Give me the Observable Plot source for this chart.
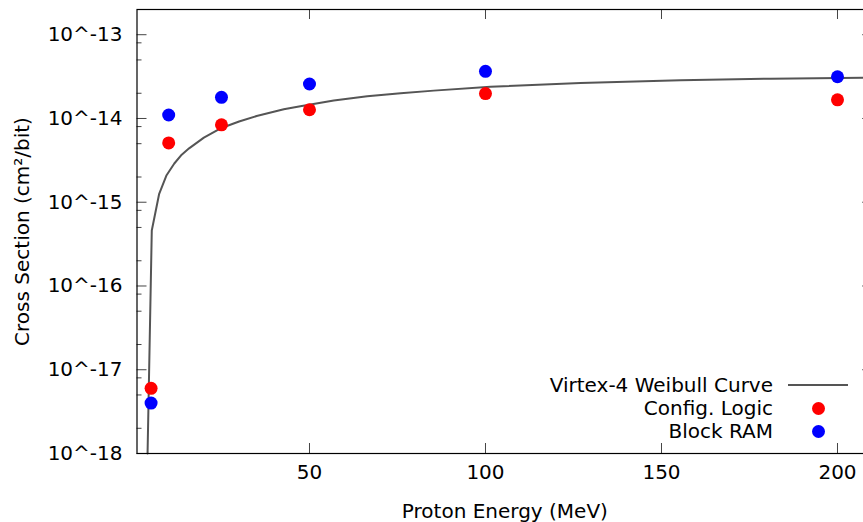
<!DOCTYPE html>
<html>
<head>
<meta charset="utf-8">
<script src="https://cdn.jsdelivr.net/npm/d3@7"></script>
<script src="https://cdn.jsdelivr.net/npm/@observablehq/plot@0.6"></script>
<style>
  html, body { margin: 0; padding: 0; background: white; overflow: hidden; }
  #wrap { position: relative; width: 863px; height: 522px; overflow: hidden; font-family: "DejaVu Sans", sans-serif; }
  .leg { position: absolute; right: 90px; font-size: 20px; line-height: 24px; text-align: right; white-space: nowrap; color: black; }
  .sym-line { position: absolute; left: 788px; width: 60px; height: 2px; background: #555; }
  .sym-dot { position: absolute; width: 13px; height: 13px; border-radius: 50%; }
</style>
</head>
<body>
<div id="wrap"></div>
<script>
// Measured data points (Proton Energy in MeV, cross section in cm^2/bit)
const energies = [5, 10, 25, 50, 100, 200];
const configLogic = [6.0e-18, 5.1e-15, 8.4e-15, 1.27e-14, 1.98e-14, 1.67e-14];
const blockRAM = [4.0e-18, 1.1e-14, 1.79e-14, 2.58e-14, 3.65e-14, 3.15e-14];

// Weibull curve
const curveEnergy = [4.0, 5.2, 7.3, 9.4, 11.6, 13.7, 15.8, 20, 25, 30, 35, 42.7, 47.4, 56.9, 66.4, 75.9, 85.3, 101.4, 127, 155.4, 181, 210];
const curveSigma = [1e-18, 4.6e-16, 1.26e-15, 2.1e-15, 2.9e-15, 3.7e-15, 4.4e-15, 5.9e-15, 7.7e-15, 9.2e-15, 1.07e-14, 1.29e-14, 1.40e-14, 1.64e-14, 1.84e-14, 2.0e-14, 2.15e-14, 2.39e-14, 2.65e-14, 2.85e-14, 2.99e-14, 3.08e-14];

// Tick values
const xTicks = [50, 100, 150, 200];
const yMajor = [1e-18, 1e-17, 1e-16, 1e-15, 1e-14, 1e-13];
const yMinor = [2e-18, 5e-18, 8e-18, 2e-17, 5e-17, 8e-17, 2e-16, 5e-16, 8e-16, 2e-15, 5e-15, 8e-15, 2e-14, 5e-14, 8e-14];
const yTickLabels = ["10^-18", "10^-17", "10^-16", "10^-15", "10^-14", "10^-13"];

const seriesNames = ["Virtex-4 Weibull Curve", "Config. Logic", "Block RAM"];
const xTitle = "Proton Energy (MeV)";
const yTitle = "Cross Section (cm²/bit)";

const points = [];
energies.forEach((e, i) => {
  points.push({E: e, s: configLogic[i], series: "Config. Logic"});
  points.push({E: e, s: blockRAM[i], series: "Block RAM"});
});
const curve = curveEnergy.map((e, i) => ({E: e, s: curveSigma[i]}));

const W = 863, H = 522;
const mL = 136.5, mR = -9.2, mT = 9, mB = 69;
const plotW = W - mR - mL, plotH = H - mB - mT;
const tickColor = "#444";

const chart = Plot.plot({
  width: W, height: H,
  marginLeft: mL, marginRight: mR, marginTop: mT, marginBottom: mB,
  style: {fontFamily: "DejaVu Sans", fontSize: "20px", color: "black", background: "white", overflow: "hidden"},
  x: {domain: [1, 210]},
  y: {type: "log", domain: [1e-18, 2e-13]},
  marks: [
    // tick marks (inward, mirrored)
    Plot.tickY(yMajor, {y: d => d, stroke: tickColor, insetRight: plotW - 10}),
    Plot.tickY(yMajor, {y: d => d, stroke: tickColor, insetLeft: plotW - 10}),
    Plot.tickY(yMinor, {y: d => d, stroke: tickColor, insetRight: plotW - 5}),
    Plot.tickY(yMinor, {y: d => d, stroke: tickColor, insetLeft: plotW - 5}),
    Plot.tickX(xTicks, {x: d => d, stroke: tickColor, insetTop: plotH - 10}),
    Plot.tickX(xTicks, {x: d => d, stroke: tickColor, insetBottom: plotH - 10}),
    // tick labels
    Plot.axisY(yMajor, {tickSize: 0, tickPadding: 14.5, tickFormat: d => yTickLabels[yMajor.indexOf(d)], label: null, fontSize: 20}),
    Plot.axisX(xTicks, {tickSize: 0, tickPadding: 11, label: null, fontSize: 20}),
    // axis titles
    Plot.text([xTitle], {text: d => d, frameAnchor: "bottom", dy: 58, lineAnchor: "middle", textAnchor: "middle", fontSize: 20}),
    Plot.text([yTitle], {text: d => d, frameAnchor: "left", dx: -114.5, rotate: -90, lineAnchor: "middle", textAnchor: "middle", fontSize: 20}),
    // data
    Plot.line(curve, {x: "E", y: "s", stroke: "#555", strokeWidth: 2}),
    Plot.dot(points, {x: "E", y: "s", r: 6.5, fill: d => d.series === "Config. Logic" ? "#ff0000" : "#0000ff", stroke: "none"}),
    Plot.frame({stroke: "black", strokeWidth: 1.2})
  ]
});

const wrap = document.getElementById("wrap");
wrap.appendChild(chart);

// Legend overlay (inside plot area, bottom right)
const rowsY = [385, 408, 431];
seriesNames.forEach((name, i) => {
  const t = document.createElement("div");
  t.className = "leg";
  t.textContent = name;
  t.style.top = (rowsY[i] - 12) + "px";
  wrap.appendChild(t);
});
const ln = document.createElement("div");
ln.className = "sym-line";
ln.style.top = (rowsY[0] - 1) + "px";
wrap.appendChild(ln);
["#ff0000", "#0000ff"].forEach((c, i) => {
  const d = document.createElement("div");
  d.className = "sym-dot";
  d.style.background = c;
  d.style.left = (818 - 6.5) + "px";
  d.style.top = (rowsY[i + 1] - 6.5) + "px";
  wrap.appendChild(d);
});
</script>
</body>
</html>
